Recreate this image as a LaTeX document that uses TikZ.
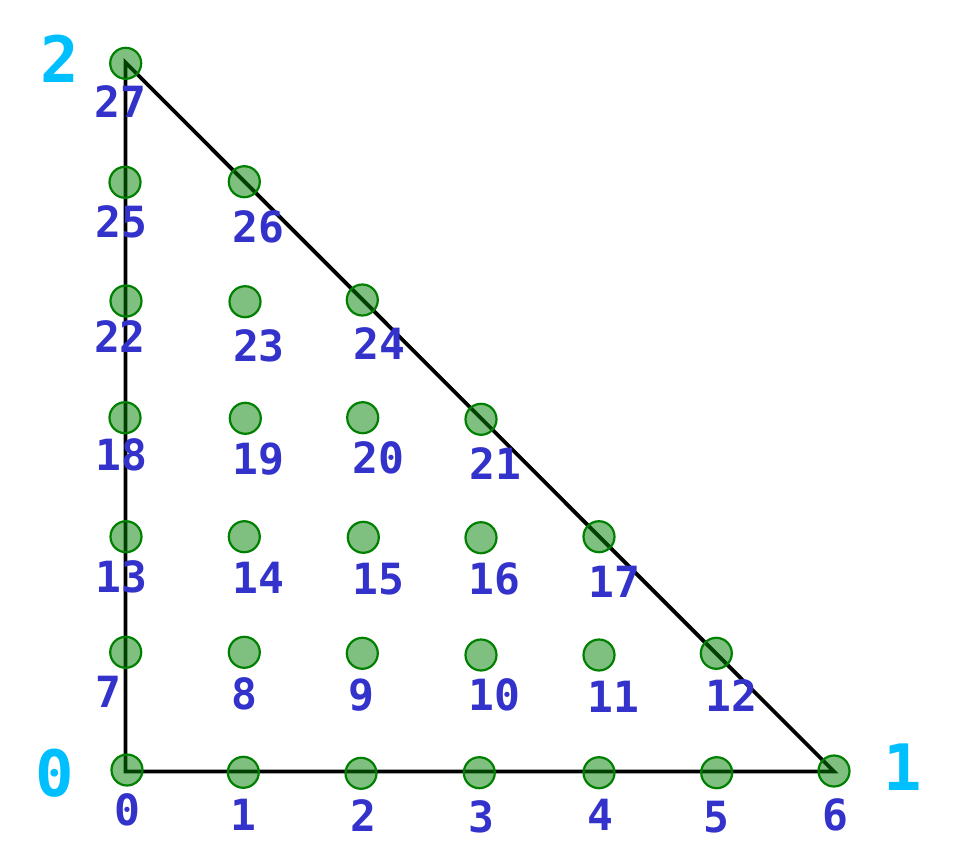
\documentclass[tikz,border=0pt]{standalone}
\usepackage{fontspec}
\newfontfamily\monob{DejaVu Sans Mono}[BoldFont={DejaVu Sans Mono Bold}]
\definecolor{lblblue}{RGB}{51,51,204}
\definecolor{cornercyan}{RGB}{0,191,255}
\definecolor{ptgreen}{RGB}{0,128,0}
\begin{document}
\begin{tikzpicture}[x=1pt,y=-1pt,
  pt/.style={circle,draw=ptgreen,line width=2.2pt,fill=ptgreen,fill opacity=0.5,draw opacity=1,minimum size=31pt,inner sep=0pt},
  lbl/.style={text=lblblue,inner sep=0pt,font=\monob\bfseries\fontsize{43}{43}\selectfont},
  corner/.style={text=cornercyan,inner sep=0pt,font=\monob\bfseries\fontsize{64}{64}\selectfont},
  edge/.style={line width=3.8pt,black}]
\useasboundingbox (0,0) rectangle (962,860);
\coordinate (v0) at (125.5,771.5);
\coordinate (v1) at (834,771.5);
\coordinate (v2) at (125.5,62.5);
\draw[edge,line join=miter] (v0) -- (v1) -- (v2) -- cycle;
\foreach \n/\px/\py/\lx/\ly in {
 0/127/770/127/810, 1/243.3/772.3/243.3/815, 2/361/773.3/363.3/816,
 3/479.3/772.7/481.7/816.7, 4/599/772.7/600/815, 5/716.7/772.7/716.7/816.7,
 6/834/771/835/815, 7/125.7/652.3/108.3/691.7, 8/244.3/652.3/244.3/694,
 9/362.3/653.3/361/695, 10/481/655/494/695, 11/599/655/613.3/696.7,
 12/716.3/653.3/731.7/696, 13/126/536.7/121.7/576.7, 14/244.3/536.7/258.3/577.7,
 15/363.3/537.3/378.3/579.3, 16/481/537.7/494/579, 17/599/536.7/614.3/582.3,
 18/125/417.7/121.7/455, 19/245.3/418.3/258.3/459, 20/362.7/417.7/378.3/458.3,
 21/481/419.3/495/464, 22/126/301/120/336.7, 23/245/301.7/259/346,
 24/362.3/300/379/343.3, 25/125/182.3/121.7/221.7, 26/244.3/181.7/258.3/226.7,
 27/125.7/63.3/120.7/101.7}{
  \node[pt] (p\n) at (\px,\py) {};
  \node[lbl] (l\n) at (\lx,\ly) {\n};
}
\node[corner] (c0) at (55,773.3) {0};
\node[corner] (c1) at (902.7,766.7) {1};
\node[corner] (c2) at (59.3,58.3) {2};
\end{tikzpicture}
\end{document}
